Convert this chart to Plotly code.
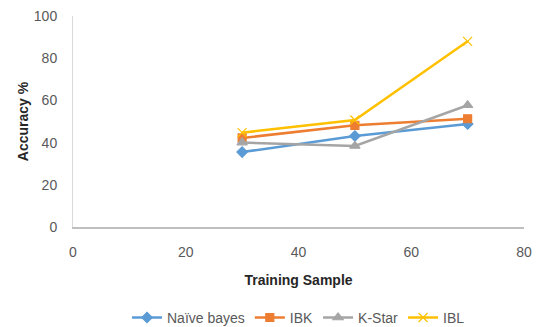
import plotly.graph_objects as go

samples = [30, 50, 70]
naive_bayes = [35.5, 43.1, 48.8]
ibk = [42.2, 48.2, 51.3]
kstar = [40.0, 38.4, 57.7]
ibl = [44.7, 50.7, 88.0]

x_ticks = [0, 20, 40, 60, 80]
y_ticks = [0, 20, 40, 60, 80, 100]

series = [
    ("Naïve bayes", naive_bayes, "#5B9BD5", "diamond", 8),
    ("IBK", ibk, "#ED7D31", "square", 8),
    ("K-Star", kstar, "#A5A5A5", "triangle-up", 9),
    ("IBL", ibl, "#FFC000", "x-thin", 9),
]

fig = go.Figure()
for name, vals, color, sym, size in series:
    fig.add_trace(go.Scatter(
        x=samples, y=vals, name=name, mode="lines+markers",
        line=dict(color=color, width=2.5),
        marker=dict(symbol=sym, size=size, color=color,
                    line=dict(color=color, width=1.2)),
    ))

font = "Liberation Sans, Arial, sans-serif"
fig.update_layout(
    width=538, height=327,
    margin=dict(l=73, r=14, t=16, b=100, autoexpand=False),
    paper_bgcolor="white", plot_bgcolor="white",
    font=dict(family=font, size=14, color="#595959"),
    showlegend=True,
    legend=dict(orientation="h", x=0.5, xanchor="center", y=-0.355, yanchor="top",
                font=dict(size=14, color="#595959"), itemwidth=30, tracegroupgap=0),
    xaxis=dict(range=[0, 80], tickvals=x_ticks, showgrid=False, zeroline=False,
               showline=True, linecolor="#BFBFBF", linewidth=1.5,
               ticks="outside", ticklen=11, tickcolor="rgba(0,0,0,0)",
               automargin=False,
               title=dict(text="<b>Training Sample</b>", font=dict(size=14, color="#262626"), standoff=17)),
    yaxis=dict(range=[0, 100], tickvals=y_ticks, showgrid=False, zeroline=False,
               showline=True, linecolor="#D9D9D9", linewidth=1,
               ticks="outside", ticklen=12, tickcolor="rgba(0,0,0,0)",
               automargin=False,
               title=dict(text="<b>Accuracy %</b>", font=dict(size=14, color="#262626"), standoff=1)),
)
fig.write_html("out.html", config={"displayModeBar": False},
               post_script="document.body.style.margin='0';document.body.style.overflow='hidden';")
